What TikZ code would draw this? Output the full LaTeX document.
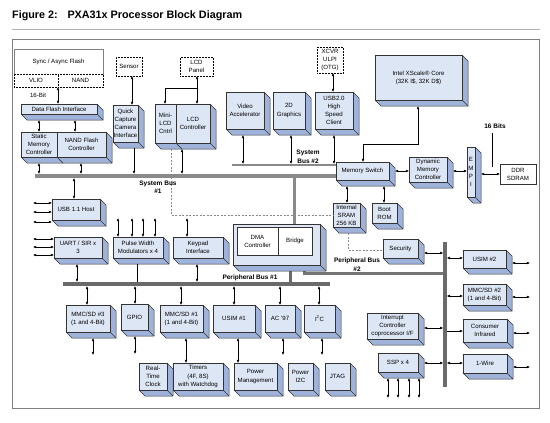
\documentclass[tikz,border=0pt]{standalone}
\usepackage{fontspec}
\setmainfont{Liberation Sans}
\usetikzlibrary{arrows.meta,backgrounds}
\definecolor{frontc}{HTML}{DDE6F5}
\definecolor{sidec}{HTML}{9FB3DA}
\definecolor{edgec}{HTML}{333333}
\definecolor{busc}{HTML}{8A8A8A}
\definecolor{busd}{HTML}{6A6A6A}
\newcommand\boxfont{\fontsize{6.1}{8.1}\selectfont}
\newcommand\lblfont{\fontsize{6.5}{8.5}\selectfont\bfseries}
\newcommand\dd{6}
\tikzset{
 front/.style={draw=edgec, fill=frontc, line width=0.5pt, inner sep=0pt, outer sep=0pt, align=center, font=\boxfont},
 sidefill/.style={fill=sidec},
 edgel/.style={draw=edgec, line width=0.5pt, line join=round},
 arr/.style={{Latex[length=3.2pt,width=2.8pt]}-{Latex[length=3.2pt,width=2.8pt]}, line width=0.5pt},
 arrs/.style={-{Latex[length=3.2pt,width=2.8pt]}, line width=0.5pt},
 ext/.style={draw=black, densely dotted, line width=0.5pt, fill=white, inner sep=0pt, outer sep=0pt, align=center, font=\boxfont, anchor=north west},
 plain/.style={draw=edgec, line width=0.5pt, fill=white, inner sep=0pt, outer sep=0pt, align=center, font=\boxfont, anchor=north west},
 buslbl/.style={font=\lblfont, align=center, inner sep=0pt},
 dashl/.style={draw=busc, line width=0.9pt, dash pattern=on 2pt off 1.5pt},
}
% name, x, y, w, h, text
\newcommand\tbox[6]{%
 \path[sidefill,edgel] (#2+#4,#3) -- ++(\dd,\dd) -- ++(0,#5) -- ++(-#4,0) -- ++(-\dd,-\dd) -- (#2+#4,#3+#5) -- cycle;
 \draw[edgel] (#2+#4,#3+#5) -- ++(\dd,\dd);
 \node[front, minimum width=#4, minimum height=#5, anchor=north west] (#1-f) at (#2,#3) {#6};
 \path (#2,#3) node[inner sep=0pt, outer sep=0pt, minimum width=#4+\dd, minimum height=#5+\dd, anchor=north west] (#1) {};
}
\begin{document}
\begin{tikzpicture}[x=1pt,y=-1pt]
\useasboundingbox (0,0) rectangle (550,423);
% title
\node[anchor=west, font=\fontsize{10.8}{12}\selectfont\bfseries, inner sep=0pt] (title) at (12,16) {Figure 2:\hspace{0.9em}PXA31x Processor Block Diagram};
\draw[gray!60, line width=1pt] (12,29) -- (540,29);
\draw[gray, line width=0.8pt] (12,39) rectangle (539,408);

% external boxes
\node[plain, draw=gray, minimum width=89, minimum height=25] (saf) at (14,49) {Sync / Async Flash};
\node[ext, minimum width=44, minimum height=13] (vlio) at (14,74) {VLIO};
\node[ext, minimum width=45, minimum height=13] (nandc) at (58,74) {NAND};
\node[font=\boxfont, inner sep=0pt] (bit16) at (38,95) {16-Bit};
\node[ext, minimum width=26, minimum height=19] (sensor) at (116,57) {Sensor};
\node[ext, minimum width=33, minimum height=19] (lcdp) at (180,57) {LCD\\Panel};
\node[ext, minimum width=26, minimum height=26] (xcvr) at (317,47) {XCVR\\ULPI\\(OTG)};
\node[plain, minimum width=36, minimum height=20] (ddr) at (500,164) {DDR\\SDRAM};

% 3D blocks
\tbox{dfi}{21}{104}{76}{10}{Data Flash Interface}
\tbox{smc}{21}{132}{36}{25}{Static\\Memory\\Controller}
\tbox{nfc}{57}{132}{49}{25}{NAND Flash\\Controller}
\tbox{qci}{113}{105}{25}{37}{Quick\\Capture\\Camera\\Interface}
\tbox{mlcd}{155}{104}{21}{39}{Mini-\\LCD\\Cntrl}
\tbox{lcdc}{176}{104}{34}{39}{LCD\\Controller}
\tbox{va}{226}{92}{38}{37}{Video\\Accelerator}
\tbox{gtd}{273}{92}{32}{37}{2D\\Graphics}
\tbox{usbt}{315}{92}{38}{37}{USB2.0\\High\\Speed\\Client}
\tbox{xs}{375}{55}{87}{45}{Intel XScale® Core\\(32K I\$, 32K D\$)}
\tbox{ms}{336}{162}{53}{18}{Memory Switch}
\tbox{dmc}{409}{157}{38}{25}{Dynamic\\Memory\\Controller}
\tbox{empi}{467}{147}{8}{50}{E\\M\\P\\I}
\tbox{sram}{333}{203}{27}{24}{Internal\\SRAM\\256 KB}
\tbox{brom}{372}{203}{25}{20}{Boot\\ROM}
\tbox{sec}{383}{239}{35}{19}{Security}
\tbox{dma}{233}{224}{87}{41}{}
\node[plain, minimum width=41, minimum height=28] (dmac) at (237,227) {DMA\\Controller};
\node[plain, minimum width=34, minimum height=28] (bridge) at (278,227) {Bridge};
\tbox{usbh}{52}{199}{48}{21}{USB 1.1 Host}
\tbox{uart}{54}{237}{48}{21}{UART / SIR x\\3}
\tbox{pwm}{113}{237}{50}{21}{Pulse Width\\Modulators x 4}
\tbox{kpd}{173}{237}{50}{21}{Keypad\\Interface}
\tbox{mmcc}{66}{305}{44}{27}{MMC/SD \#3\\(1 and 4-Bit)}
\tbox{gpio}{121}{304}{27}{26}{GPIO}
\tbox{mmca}{160}{305}{43}{27}{MMC/SD \#1\\(1 and 4-Bit)}
\tbox{usima}{213}{305}{42}{27}{USIM \#1}
\tbox{ac}{265}{305}{30}{27}{AC '97}
\tbox{iic}{304}{305}{31}{27}{I\textsuperscript{2}C}
\tbox{rtc}{139}{363}{28}{27}{Real-\\Time\\Clock}
\tbox{tmr}{173}{363}{50}{27}{Timers\\(4F, 8S)\\with Watchdog}
\tbox{pm}{234}{363}{43}{27}{Power\\Management}
\tbox{piic}{288}{363}{25}{27}{Power\\I2C}
\tbox{jtag}{325}{363}{25}{27}{JTAG}
\tbox{intc}{367}{313}{51}{26}{Interrupt\\Controller\\coprocessor I/F}
\tbox{ssp}{378}{353}{40}{19}{SSP x 4}
\tbox{usimb}{463}{250}{43}{18}{USIM \#2}
\tbox{mmcb}{463}{284}{43}{21}{MMC/SD \#2\\(1 and 4-Bit)}
\tbox{cir}{463}{319}{44}{23}{Consumer\\Infrared}
\tbox{ow}{463}{354}{44}{19}{1-Wire}

% buses (background)
\begin{pgfonlayer}{background}
\draw[busc, line width=4pt] (35,176) -- (ms.west |- 0,176);
\draw[busc, line width=2pt] (232,165) -- (ms.west |- 0,165);
\draw[busc, line width=3pt] (294,176) -- (294,0 |- dma.north);
\draw[busd, line width=3.5pt] (63,284) -- (330,284);
\draw[busd, line width=3pt] (290,0 |- dma.south) -- (290,284);
\draw[busc!85!black, line width=3pt] (304,266) -- (304,273) -- (445,273);
\draw[busd, line width=3.5pt] (445,242) -- (445,387);
\end{pgfonlayer}

% dashed paths
\draw[dashl] (171,0 |- mlcd.south) -- (171,215) -- (sram.west |- 0,215);
\draw[dashl] (348,0 |- sram.south) -- (348,250) -- (sec.west |- 0,250);

% labels
\node[buslbl] (lsb1) at (158,187) {System Bus\\\#1};
\node[buslbl] (lsb2) at (308,157) {System\\Bus \#2};
\node[buslbl] (lpb2) at (357,264.5) {Peripheral Bus\\\#2};
\node[buslbl] (lpb1) at (250,277.5) {Peripheral Bus \#1};
\node[buslbl] (l16) at (495,126) {16 Bits};
\draw[line width=0.5pt] (492,133) -- (492,167);

% connectors upper left
\draw[arr] (58,0 |- nandc.south) -- (58,0 |- dfi-f.north);
\draw[arr] (39,0 |- dfi.south) -- (39,0 |- smc.north);
\draw[arr] (75,0 |- dfi.south) -- (75,0 |- nfc.north);
\draw[arr] (39,0 |- smc.south) -- (39,174);
\draw[arr] (81,0 |- nfc.south) -- (81,174);
\draw[arr] (132,0 |- sensor.south) -- (132,0 |- qci.north);
\draw[arrs] (134,0 |- qci.south) -- (134,174);
\draw[arr] (197,0 |- lcdp.south) -- (197,0 |- lcdc.north);
\draw[arrs] (197,88) -- (165,88) -- (165,0 |- mlcd.north);
\draw[arr] (182,0 |- lcdc.south) -- (182,174);
% system bus 2
\draw[arr] (243,0 |- va.south) -- (243,164);
\draw[arr] (291,0 |- gtd.south) -- (291,164);
\draw[arr] (334,0 |- usbt.south) -- (334,164);
\draw[arr] (333,0 |- xcvr.south) -- (333,0 |- usbt.north);
\draw[arr] (418,0 |- xs.south) -- (418,144) -- (363,144) -- (363,0 |- ms.north);
% memory
\draw[arr] (ms.east |- 0,171) -- (dmc.west |- 0,171);
\draw[arr] (dmc.east |- 0,171) -- (empi.west |- 0,171);
\draw[arr] (empi.east |- 0,174) -- (ddr.west |- 0,174);
\draw[arr] (347,0 |- ms.south) -- (347,0 |- sram.north);
\draw[arr] (384,0 |- ms.south) -- (384,0 |- brom.north);
% middle left
\draw[arr] (74,178) -- (74,0 |- usbh.north);
\foreach \yy in {203,212,222} \draw[arr] (33,\yy) -- (usbh.west |- 0,\yy);
\foreach \yy in {239,247,255} \draw[arr] (33,\yy) -- (uart.west |- 0,\yy);
\foreach \xx in {118,132,143,155} \draw[arr] (\xx,218) -- (\xx,0 |- pwm.north);
\draw[arr] (187,218) -- (187,0 |- kpd.north);
\draw[arr] (77,0 |- uart.south) -- (77,282);
\draw[line width=0.5pt] (137,0 |- pwm.south) -- (137,282);
\draw[arr] (197,0 |- kpd.south) -- (197,282);
% peripheral bus 1
\draw[arr] (87,286) -- (87,0 |- mmcc.north);
\draw[arr] (135,286) -- (135,0 |- gpio.north);
\draw[arr] (181,286) -- (181,0 |- mmca.north);
\draw[arr] (234,286) -- (234,0 |- usima.north);
\draw[arr] (280,286) -- (280,0 |- ac.north);
\draw[arr] (319,286) -- (319,0 |- iic.north);
\draw[arr] (93,0 |- mmcc.south) -- (93,355);
\draw[arr] (135,0 |- gpio.south) -- (135,354);
\draw[arr] (186,0 |- mmca.south) -- (186,0 |- tmr.north);
\draw[arr] (238,0 |- usima.south) -- (238,0 |- pm.north);
\draw[arr] (283,0 |- ac.south) -- (283,355);
\draw[arr] (322,0 |- iic.south) -- (322,355);
% peripheral bus 2
\draw[arr] (sec.east |- 0,253) -- (443.2,253);
\draw[arr] (intc.east |- 0,328) -- (443.2,328);
\draw[arr] (ssp.east |- 0,363) -- (443.2,363);
\foreach \xx in {388,398,409,419} \draw[arr] (\xx,0 |- ssp.south) -- (\xx,398);
\draw[arr] (446.8,258) -- (usimb.west |- 0,258);
\draw[arr] (446.8,296) -- (mmcb.west |- 0,296);
\draw[arrs] (446.8,331) -- (cir.west |- 0,331);
\draw[arr] (446.8,363) -- (ow.west |- 0,363);
\draw[arr] (usimb.east |- 0,263) -- (530,263);
\draw[arr] (mmcb.east |- 0,297) -- (530,297);
\draw[arr] (cir.east |- 0,333) -- (530,333);
\draw[arr] (ow.east |- 0,367) -- (530,367);
\end{tikzpicture}
\end{document}
